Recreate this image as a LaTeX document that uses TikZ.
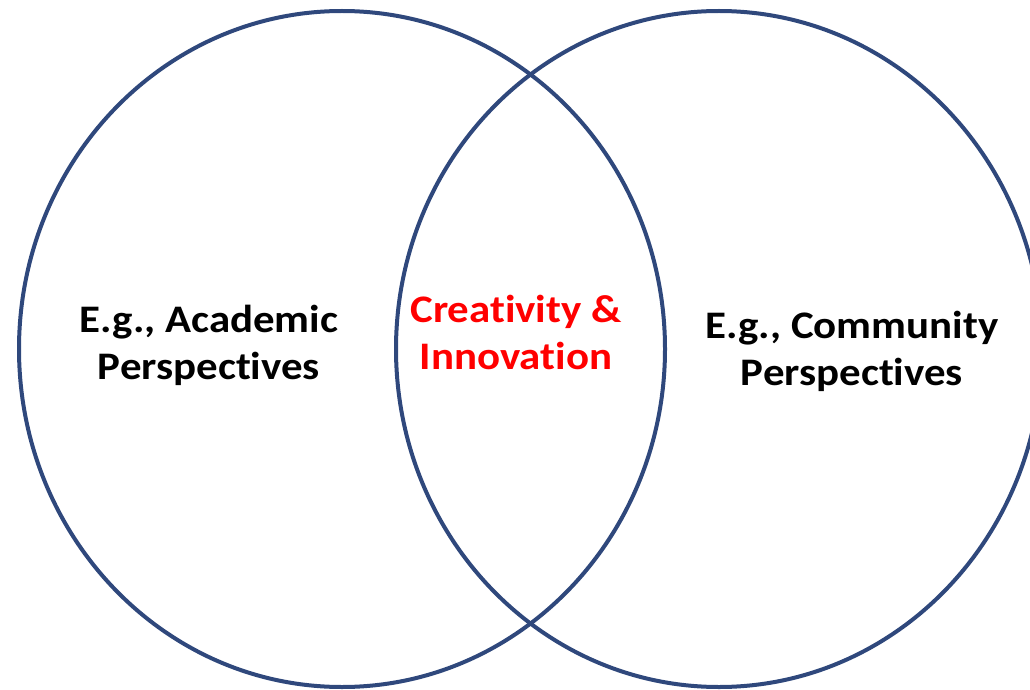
\documentclass[tikz,border=0pt]{standalone}
\usepackage{fontspec}
\setmainfont[Ligatures=NoCommon, FakeStretch=1.1]{Carlito}
\usepackage{xcolor}
\usetikzlibrary{shapes.geometric,positioning}

\definecolor{vennblue}{RGB}{47,72,124}
\definecolor{vennred}{RGB}{255,0,0}

\begin{document}
\begin{tikzpicture}[
    x=1pt, y=-1pt,
    venn/.style={ellipse, draw=vennblue, line width=4pt, minimum width=646pt, minimum height=676pt, inner sep=0pt},
    label/.style={align=center, font=\fontsize{39}{47}\selectfont\bfseries}
]
    \useasboundingbox (0,0) rectangle (1030,690);

    \node[venn] (acad) at (342,349) {};
    \node[venn] (comm) at (719,349) {};

    \node[label] (acadtext) at (209,345) {E.g., Academic\\Perspectives};
    \node[label, text=vennred] (overlap) at (516,332) {Creativity \&\\Innovation};
    \node[label] (commtext) at (852,351) {E.g., Community\\Perspectives};
\end{tikzpicture}
\end{document}
